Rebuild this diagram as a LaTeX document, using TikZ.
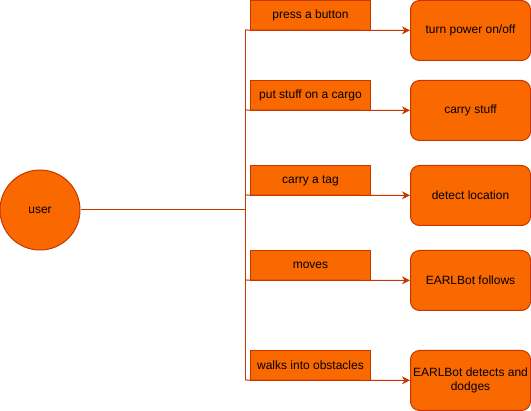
\documentclass[tikz,border=0pt]{standalone}
\usepackage{fontspec}
\setmainfont{Liberation Sans}
\usetikzlibrary{arrows.meta}
\definecolor{orangefill}{HTML}{FA6800}
\definecolor{orangeline}{HTML}{C73500}
\begin{document}
\begin{tikzpicture}[
        x=1pt, y=-1pt,
        every node/.style={font=\fontsize{12}{14}\selectfont, text=black, line width=1pt},
        usern/.style={draw=orangeline, fill=orangefill, circle, minimum size=80pt, inner sep=0pt},
        actn/.style={draw=orangeline, fill=orangefill, minimum width=120pt, minimum height=30pt, inner sep=0pt, anchor=north west},
        resn/.style={draw=orangeline, fill=orangefill, rounded corners=9pt, minimum width=120pt, minimum height=60pt, inner sep=2pt, align=center, anchor=north west},
        link/.style={draw=orangeline, line width=1pt},
        arr/.style={link, -{Stealth[length=8pt, width=8pt, inset=2.5pt]}},
    ]
    \useasboundingbox (0,0) rectangle (531,411);
    \node[usern](user) at (40,210) {user};
    % actions of the user
    \node[actn](press) at (250,0) {press a button};
    \node[actn](put) at (250,80) {put stuff on a cargo};
    \node[actn](tag) at (250,165) {carry a tag};
    \node[actn](moves) at (250,250) {moves};
    \node[actn](walks) at (250,350) {walks into obstacles};
    % what EARLBot does
    \node[resn](power) at (410,0) {turn power on/off};
    \node[resn](carry) at (410,80) {carry stuff};
    \node[resn](locate) at (410,165) {detect location};
    \node[resn](follows) at (410,250) {EARLBot follows};
    \node[resn](dodges) at (410,350) {EARLBot detects and\\dodges};
    \coordinate (hub) at (245,210);
    \coordinate (j1) at (245,30);
    \coordinate (j2) at (245,110);
    \coordinate (j3) at (245,195);
    \coordinate (j4) at (245,280);
    \coordinate (j5) at (245,380);
    \draw[link] (user) -- (hub);
    \draw[link] (j1) -- (j5);
    \draw[arr] (j1) -- (power);
    \draw[arr] (j2) -- (carry);
    \draw[arr] (j3) -- (locate);
    \draw[arr] (j4) -- (follows);
    \draw[arr] (j5) -- (dodges);
\end{tikzpicture}
\end{document}
